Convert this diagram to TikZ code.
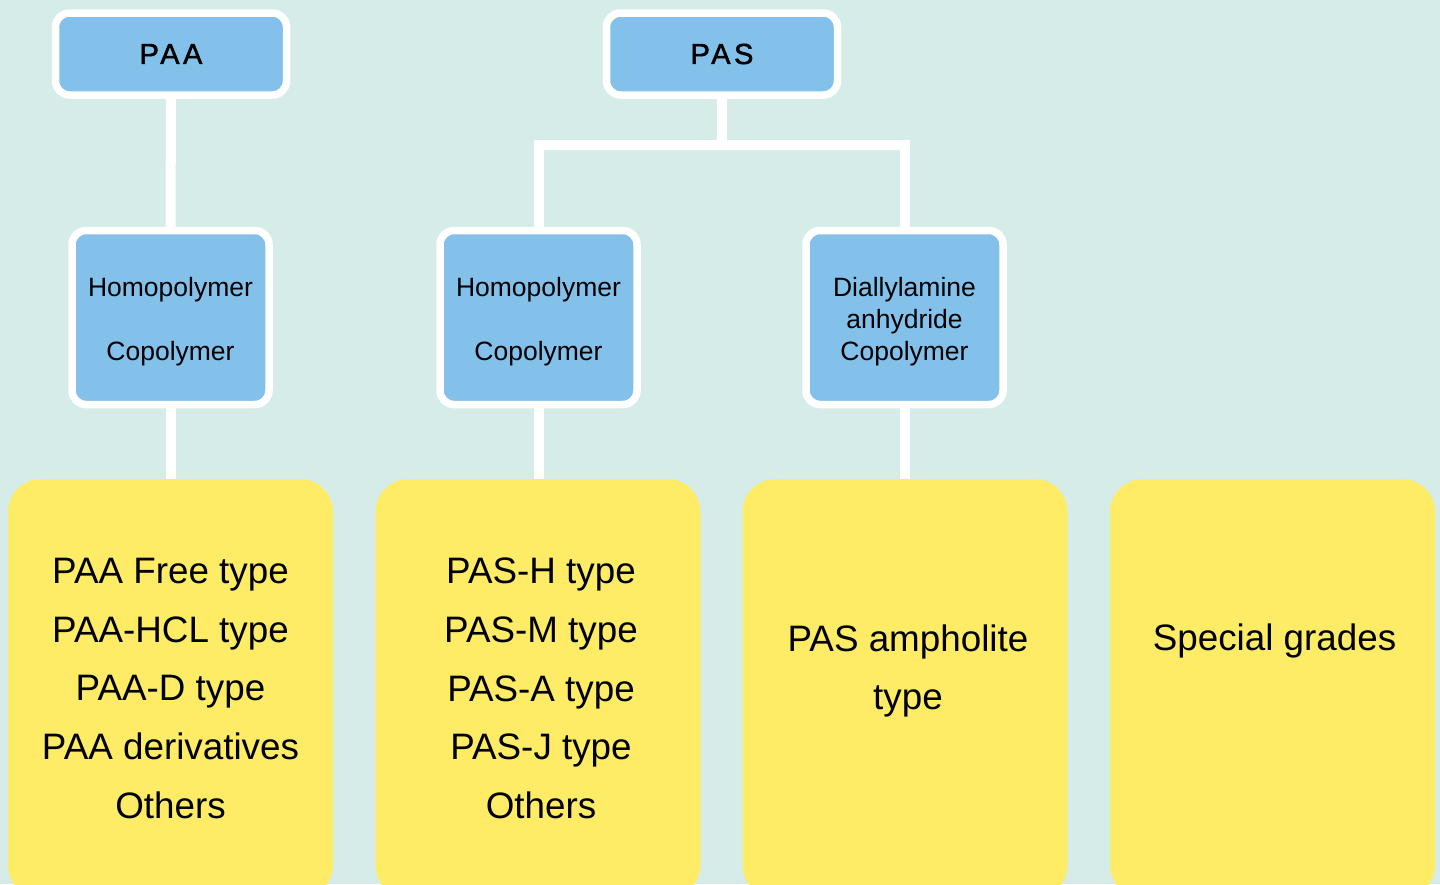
\documentclass[tikz,border=0pt]{standalone}
\usepackage{fontspec}
\setmainfont{Liberation Sans}
\newfontfamily\headfont{Liberation Sans}[LetterSpace=12, FakeBold=1.6]
\usetikzlibrary{positioning}

\definecolor{bgcol}{HTML}{D5ECE9}
\definecolor{bluecol}{HTML}{83C0EA}
\definecolor{yelcol}{HTML}{FEEC66}

\newcommand\topstrut{\rule{0pt}{27.5pt}}

\begin{document}
\begin{tikzpicture}[
x=1pt, y=-1pt,
head/.style={fill=bluecol, draw=white, line width=7.5pt, rounded corners=14pt,
  minimum width=231pt, minimum height=82pt, font=\headfont\fontsize{29}{32}\selectfont},
sub/.style={fill=bluecol, draw=white, line width=7.5pt, rounded corners=14pt,
  minimum width=197pt, minimum height=174pt, align=center, font=\fontsize{26.5}{32}\selectfont},
grade/.style={fill=yelcol, rounded corners=33pt, minimum width=325pt, minimum height=419pt, inner sep=0pt},
gradetext/.style={align=center, font=\fontsize{36.8}{58.75}\selectfont},
link/.style={draw=white, line width=10pt}
]

%% Background
\useasboundingbox[fill=bgcol] (0,0) rectangle (1440,884);
\clip (0,0) rectangle (1440,884);

\def\ytop{54}    % row of PAA / PAS
\def\ysub{317.5} % row of the polymer boxes
\def\ygr{688.5}  % row of the grade boxes

%% Top row
\node[head] (paa) at (171,\ytop) {PAA};
\node[head] (pas) at (722,\ytop) {PAS};

%% Polymer boxes
\node[sub] (paasub) at (170.5,\ysub) {\topstrut Homopolymer\\[32pt]Copolymer};
\node[sub] (passub) at (538.5,\ysub) {\topstrut Homopolymer\\[32pt]Copolymer};
\node[sub] (diasub) at (904.5,\ysub) {\topstrut Diallylamine\\anhydride\\Copolymer};

%% Grade boxes
\node[grade] (paagr) at (170.5,\ygr) {};
\node[grade] (pasgr) at (538,\ygr) {};
\node[grade] (ampgr) at (905,\ygr) {};
\node[grade] (spegr) at (1272.5,\ygr) {};

\node[gradetext] (paatext) at ([xshift=0pt]paagr.center)
  {PAA Free type\\PAA-HCL type\\PAA-D type\\PAA derivatives\\Others};
\node[gradetext] (pastext) at ([xshift=3pt]pasgr.center)
  {PAS-H type\\PAS-M type\\PAS-A type\\PAS-J type\\Others};
\node[gradetext] (amptext) at ([xshift=3pt,yshift=17.5pt]ampgr.center)
  {PAS ampholite\\type};
\node[gradetext] (spetext) at ([xshift=2pt,yshift=47.5pt]spegr.center)
  {Special grades};

%% Links
\coordinate (fork) at (722,145);
\draw[link] (paa.south) -- (paasub.north);
\draw[link] (pas.south) -- (fork);
\draw[link] (passub.north) |- (fork) -| (diasub.north);
\draw[link] (paasub.south) -- (paagr.north -| paasub.south);
\draw[link] (passub.south) -- (pasgr.north -| passub.south);
\draw[link] (diasub.south) -- (ampgr.north -| diasub.south);

\end{tikzpicture}
\end{document}
